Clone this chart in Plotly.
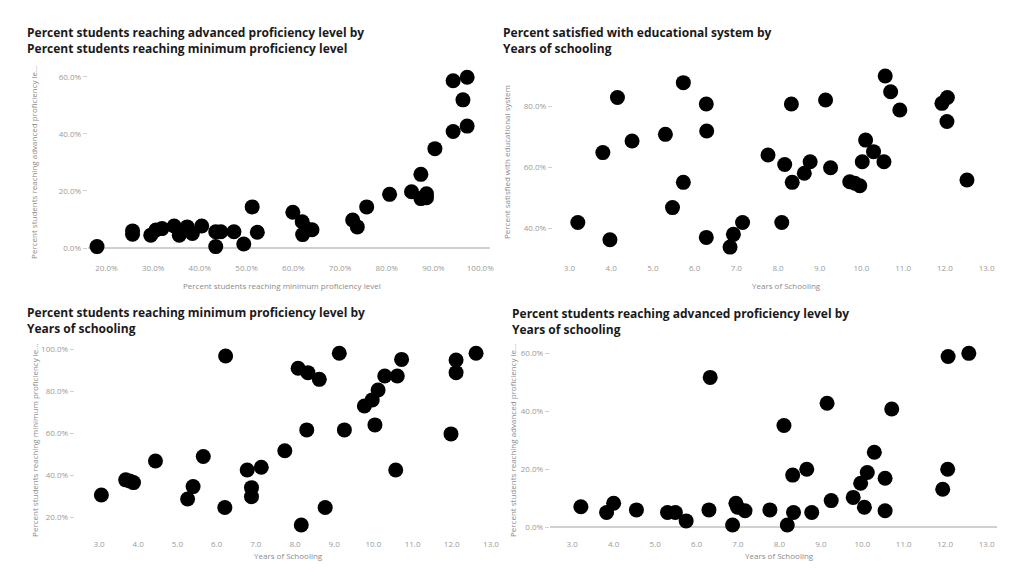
import plotly.graph_objects as go

# Page body has an 8px margin, so the figure is drawn 8px in from the window edge.
OFF = 8
W, H = 1009 - 2 * OFF, 570 - 2 * OFF

# Panel 1: advanced (%) vs minimum (%)
p1_min = [18.0, 25.6, 25.6, 29.5, 30.6, 31.9, 34.5, 35.6, 37.3, 38.4, 40.4, 43.4, 43.4, 44.5,
          47.3, 49.4, 51.2, 52.3, 59.9, 61.9, 62.0, 62.9, 64.0, 72.7, 73.7, 75.7, 80.6, 85.3,
          87.3, 87.3, 88.5, 88.5, 90.3, 94.2, 94.2, 96.3, 97.2, 97.2]
p1_adv = [0.5, 6.0, 4.8, 4.5, 6.3, 6.8, 7.7, 4.5, 7.4, 5.1, 7.7, 5.7, 0.5, 5.7,
          5.7, 1.4, 14.4, 5.5, 12.5, 9.2, 4.7, 6.7, 6.4, 9.8, 7.4, 14.4, 18.8, 19.7,
          25.8, 17.3, 19.0, 17.6, 34.8, 40.8, 58.6, 51.9, 59.8, 42.7]

# Panel 2: satisfied (%) vs years of schooling
p2_years = [3.2, 3.8, 3.97, 4.15, 4.5, 5.3, 5.47, 5.73, 5.73, 6.28, 6.29, 6.28, 6.85, 6.93,
            7.15, 7.76, 8.09, 8.16, 8.32, 8.34, 8.63, 8.77, 9.14, 9.26, 9.72, 9.84, 9.96,
            10.02, 10.1, 10.29, 10.54, 10.57, 10.7, 10.92, 11.93, 12.06, 12.05, 12.53]
p2_sat = [41.9, 64.9, 36.2, 83.0, 68.7, 70.9, 46.8, 87.9, 55.1, 80.9, 72.0, 37.0, 33.8, 38.0,
          41.9, 64.1, 41.9, 61.0, 80.9, 55.1, 58.1, 61.9, 82.2, 59.9, 55.3, 54.8, 54.0,
          61.9, 69.0, 65.2, 61.9, 90.1, 84.9, 78.9, 81.1, 83.0, 75.1, 55.9]

# Panel 3: minimum (%) vs years of schooling
p3_years = [3.06, 3.68, 3.78, 3.88, 4.44, 5.26, 5.4, 5.66, 6.21, 6.23, 6.78, 6.89, 6.89, 7.14,
            7.74, 8.08, 8.16, 8.3, 8.33, 8.62, 8.77, 9.13, 9.26, 9.77, 9.97, 10.04, 10.12,
            10.29, 10.57, 10.61, 10.72, 11.98, 12.11, 12.11, 12.62]
p3_min = [30.6, 37.8, 37.3, 36.5, 46.8, 28.7, 34.6, 48.9, 24.6, 96.8, 42.5, 34.1, 29.8, 43.8,
          51.7, 91.0, 16.3, 61.6, 88.9, 85.7, 24.6, 98.1, 61.6, 73.0, 75.9, 64.0, 80.6,
          87.3, 42.5, 87.3, 95.2, 59.7, 88.9, 94.9, 98.1]

# Panel 4: advanced (%) vs years of schooling
p4_years = [3.21, 3.83, 4.0, 4.55, 5.3, 5.49, 5.75, 6.3, 6.33, 6.87, 6.95, 6.99, 7.17, 7.77,
            8.11, 8.19, 8.32, 8.34, 8.66, 8.78, 9.15, 9.25, 9.78, 9.96, 10.05, 10.12, 10.29,
            10.55, 10.55, 10.71, 11.94, 12.06, 12.07, 12.57]
p4_adv = [7.1, 5.1, 8.3, 6.0, 5.1, 5.1, 2.2, 6.0, 51.7, 0.8, 8.3, 6.9, 5.7, 6.0,
          35.1, 0.8, 18.0, 5.1, 20.0, 5.1, 42.8, 9.2, 10.3, 15.2, 6.9, 18.9, 25.9,
          16.9, 5.7, 40.8, 13.1, 20.0, 58.9, 60.0]

titles = [
    "Percent students reaching advanced proficiency level by<br>Percent students reaching minimum proficiency level",
    "Percent satisfied with educational system by<br>Years of schooling",
    "Percent students reaching minimum proficiency level by<br>Years of schooling",
    "Percent students reaching advanced proficiency level by<br>Years of schooling",
]
x_titles = ["Percent students reaching minimum proficiency level", "Years of Schooling",
            "Years of Schooling", "Years of Schooling"]
y_titles = ["Percent students reaching advanced proficiency le…",
            "Percent satisfied with educational system",
            "Percent students reaching minimum proficiency le…",
            "Percent students reaching advanced proficiency le…"]

pct_ticks_x1 = [20, 30, 40, 50, 60, 70, 80, 90, 100]
year_ticks = list(range(3, 14))
y_ticks = [[0, 20, 40, 60], [40, 60, 80], [20, 40, 60, 80, 100], [0, 20, 40, 60]]


def fx(px):
    return (px - OFF) / W


def fy(py):
    return 1 - (py - OFF) / H


# pixel boxes in window coords (left, right, top, bottom)
boxes = [(88, 492, 65, 262), (555, 1001, 62, 262), (75, 500, 338, 538), (552, 1001, 340, 538)]
xranges = [[16, 102.1], [2.6, 13.25], [2.38, 13.18], [2.46, 13.25]]
yranges = [[-4.9, 64.1], [28.9, 94.7], [10.1, 105.4], [-3.7, 64.6]]
xtickvals = [pct_ticks_x1, year_ticks, year_ticks, year_ticks]
xticktext = [["%.1f%%" % v for v in pct_ticks_x1]] + [["%.1f" % v for v in year_ticks]] * 3

data = [(p1_min, p1_adv), (p2_years, p2_sat), (p3_years, p3_min), (p4_years, p4_adv)]

fig = go.Figure()
tickfont = dict(family="Open Sans", size=8, color="#9a9a9a")
for i, (xs, ys) in enumerate(data):
    n = "" if i == 0 else str(i + 1)
    fig.add_trace(go.Scatter(x=xs, y=ys, mode="markers", xaxis="x" + n, yaxis="y" + n,
                             marker=dict(size=15, color="#000000", line=dict(width=0)),
                             showlegend=False))
    l, r, t, b = boxes[i]
    fig.update_layout(**{
        "xaxis" + n: dict(domain=[fx(l), min(1.0, fx(r))], range=xranges[i], anchor="y" + n,
                          tickvals=xtickvals[i], ticktext=xticktext[i], showgrid=False,
                          zeroline=False, showline=False, ticks="", tickfont=tickfont),
        "yaxis" + n: dict(domain=[fy(b), fy(t)], range=yranges[i], anchor="x" + n,
                          tickvals=y_ticks[i], ticktext=["%.1f%%" % v for v in y_ticks[i]],
                          showgrid=False, zeroline=True, zerolinecolor="#d0d0d0",
                          zerolinewidth=1.5, showline=False, ticks="outside", ticklen=4,
                          tickcolor="#d0d0d0", tickfont=tickfont),
    })

ann = []
title_pos = [(25, 22), (503, 22), (25, 302), (512, 303)]
for (x, y), t in zip(title_pos, titles):
    ann.append(dict(text="<b>" + t + "</b>", x=fx(x), y=fy(y), xref="paper", yref="paper",
                    xanchor="left", yanchor="top", align="left", showarrow=False,
                    font=dict(family="Open Sans", size=12, color="#1a1a1a")))
xt_pos = [(283, 285), (790, 285), (290, 555), (783, 555)]
for (x, y), t in zip(xt_pos, x_titles):
    ann.append(dict(text=t, x=fx(x), y=fy(y), xref="paper", yref="paper",
                    xanchor="center", yanchor="middle", showarrow=False,
                    font=dict(family="Open Sans", size=8, color="#8a8a8a")))
yt_pos = [(34, 162), (509, 162), (34, 440), (514, 440)]
for (x, y), t in zip(yt_pos, y_titles):
    ann.append(dict(text=t, x=fx(x), y=fy(y), xref="paper", yref="paper",
                    xanchor="center", yanchor="middle", showarrow=False, textangle=-90,
                    font=dict(family="Open Sans", size=8, color="#8a8a8a")))

fig.update_layout(width=W, height=H, margin=dict(l=0, r=0, t=0, b=0),
                  paper_bgcolor="white", plot_bgcolor="white", annotations=ann)

fig.write_html("out.html")
